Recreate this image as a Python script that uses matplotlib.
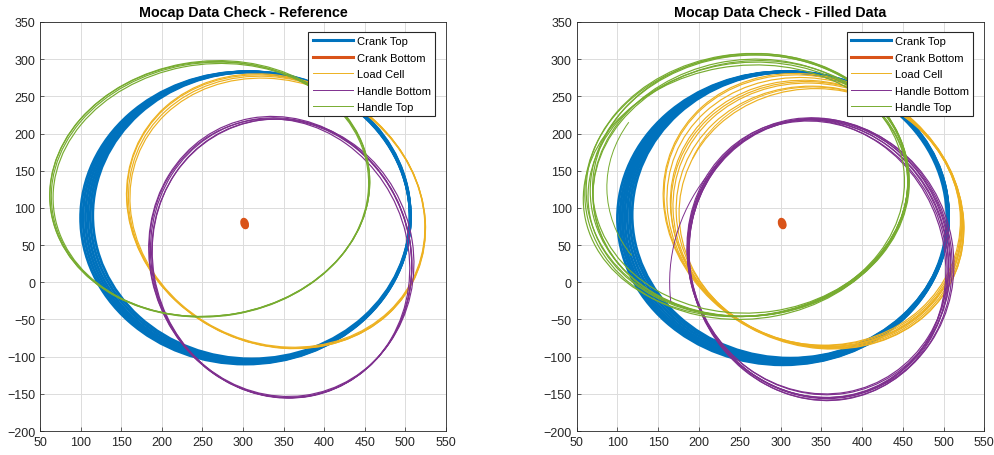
import matplotlib
matplotlib.use('Agg')
import matplotlib.pyplot as plt
from matplotlib.patches import Ellipse, Arc
from matplotlib.lines import Line2D

plt.rcParams['font.family'] = ['Liberation Sans', 'DejaVu Sans']

# MATLAB default colours, one per marker
C_BLUE = '#0072BD'
C_ORANGE = '#D95319'
C_YELLOW = '#EDB120'
C_PURPLE = '#7E2F8E'
C_GREEN = '#77AC30'

LABELS = ['Crank Top', 'Crank Bottom', 'Load Cell', 'Handle Bottom', 'Handle Top']
X_TICKS = [50, 100, 150, 200, 250, 300, 350, 400, 450, 500, 550]
Y_TICKS = [-200, -150, -100, -50, 0, 50, 100, 150, 200, 250, 300, 350]

# one loop per crank cycle: (centre x, centre y, semi-axis a, semi-axis b, tilt deg)
crank_top_ref = [(303.0, 86.5, 203.0, 196.5, 0), (304.5, 87.0, 201.5, 196.0, 0),
                 (306.0, 87.5, 200.0, 195.5, 0), (307.5, 88.0, 198.5, 195.0, 0),
                 (309.0, 89.0, 197.0, 194.0, 0), (310.5, 90.0, 195.5, 193.0, 0)]
crank_bottom_ref = [(302.0, 79.0, 3.0, 5.5, 15), (302.5, 78.5, 2.0, 4.5, 20)]
load_cell_ref = [(341.0, 95.0, 195.0, 172.0, -45), (341.7, 94.3, 193.0, 172.0, -45),
                 (342.4, 93.6, 191.0, 171.0, -44), (340.5, 95.5, 195.5, 172.5, -46)]
handle_bottom_ref = [(347.0, 33.0, 189.0, 160.0, 100), (346.0, 34.0, 190.0, 161.0, 101),
                     (348.0, 32.0, 188.0, 159.0, 99), (349.0, 33.0, 187.0, 161.0, 98),
                     (345.0, 32.0, 189.0, 159.0, 102)]
handle_top_ref = [(260.0, 125.0, 197.0, 170.0, 11), (259.0, 126.0, 198.0, 171.0, 11),
                  (261.0, 124.0, 196.0, 169.0, 12), (258.5, 125.0, 197.0, 171.0, 10)]

crank_top_fill = [(303.0, 86.0, 203.0, 197.0, 0), (304.5, 86.5, 201.5, 196.5, 0),
                  (306.0, 87.0, 200.0, 196.0, 0), (307.5, 88.0, 198.5, 195.0, 0),
                  (309.0, 89.0, 197.0, 194.0, 0), (310.5, 90.0, 195.5, 193.0, 0),
                  (312.0, 90.5, 194.0, 192.5, 0), (305.0, 87.0, 199.0, 196.0, 0)]
crank_bottom_fill = [(302.0, 79.0, 3.0, 5.5, 15), (302.5, 78.5, 2.0, 4.5, 20)]
load_cell_fill = [(341.0, 95.0, 195.0, 172.0, -45), (342.4, 93.6, 191.0, 172.0, -45),
                  (343.8, 92.2, 187.0, 171.0, -46), (345.2, 90.8, 183.0, 171.0, -45),
                  (346.7, 89.3, 179.0, 170.0, -44), (348.1, 87.9, 175.0, 170.0, -45),
                  (340.5, 95.5, 196.0, 173.0, -46), (344.5, 91.5, 185.0, 172.0, -44)]
handle_bottom_fill = [(347.0, 33.0, 189.0, 160.0, 100), (345.0, 31.0, 187.0, 158.0, 102),
                      (349.0, 31.0, 190.0, 161.0, 98), (346.0, 34.0, 185.0, 159.0, 101),
                      (350.0, 32.0, 188.0, 162.0, 99), (344.0, 31.0, 189.0, 157.0, 103),
                      (348.0, 34.0, 186.0, 160.0, 100), (347.0, 30.0, 190.0, 158.0, 100)]
handle_top_fill = [(260.0, 125.0, 197.0, 170.0, 11), (262.0, 130.0, 196.0, 175.0, 10),
                   (258.0, 128.0, 199.0, 177.0, 12), (263.0, 133.0, 194.0, 174.0, 9),
                   (257.0, 123.0, 200.0, 168.0, 11), (261.0, 127.0, 192.0, 172.0, 13),
                   (259.0, 131.0, 198.0, 176.0, 10), (264.0, 126.0, 195.0, 171.0, 12)]
# gap-filled partial cycles (centre x, centre y, a, b, tilt, start deg, end deg)
partial_fill = [(C_PURPLE, (410.0, 0.0, 246.0, 246.0, 0, 145, 186)),
                (C_GREEN, (265.0, 128.0, 178.0, 165.0, 0, 150, 212)),
                (C_YELLOW, (350.0, 92.0, 176.0, 165.0, -45, 120, 200))]


def draw_cycles(ax, cycles, color, lw):
    for cx, cy, a, b, ang in cycles:
        ax.add_patch(Ellipse((cx, cy), 2 * a, 2 * b, angle=ang, fill=False,
                             edgecolor=color, lw=lw))


def setup_axes(ax, title):
    ax.set_xlim(50, 550)
    ax.set_ylim(-200, 350)
    ax.set_xticks(X_TICKS)
    ax.set_yticks(Y_TICKS)
    ax.grid(True, color='#DCDCDC', lw=0.7)
    ax.set_axisbelow(True)
    ax.tick_params(direction='in', length=3, width=0.5, labelsize=9, colors='#262626')
    for s in ax.spines.values():
        s.set_color('#262626')
        s.set_linewidth(0.6)
    ax.set_title(title, fontsize=10.3, fontweight='bold', pad=4)
    handles = [Line2D([], [], color=C_BLUE, lw=2.2), Line2D([], [], color=C_ORANGE, lw=2.2),
               Line2D([], [], color=C_YELLOW, lw=0.7), Line2D([], [], color=C_PURPLE, lw=0.7),
               Line2D([], [], color=C_GREEN, lw=0.7)]
    leg = ax.legend(handles, LABELS, loc='upper right', bbox_to_anchor=(0.973, 0.976),
                    borderaxespad=0, fontsize=8, handlelength=3.6, handletextpad=0.35,
                    labelspacing=0.58, borderpad=0.4, fancybox=False, framealpha=1)
    leg.get_frame().set_edgecolor('#262626')
    leg.get_frame().set_linewidth(0.8)


fig = plt.figure(figsize=(9.95, 4.56), dpi=100)
ax1 = fig.add_axes([0.0402, 0.0526, 0.408, 0.897])
ax2 = fig.add_axes([0.5796, 0.0526, 0.4097, 0.897])

for ax, sets in [(ax1, [crank_top_ref, crank_bottom_ref, load_cell_ref, handle_bottom_ref, handle_top_ref]),
                 (ax2, [crank_top_fill, crank_bottom_fill, load_cell_fill, handle_bottom_fill, handle_top_fill])]:
    draw_cycles(ax, sets[0], C_BLUE, 2.0)
    draw_cycles(ax, sets[1], C_ORANGE, 2.5)
    draw_cycles(ax, sets[2], C_YELLOW, 0.85)
    draw_cycles(ax, sets[3], C_PURPLE, 0.85)
    draw_cycles(ax, sets[4], C_GREEN, 0.85)

for color, (cx, cy, a, b, ang, t1, t2) in partial_fill:
    ax2.add_patch(Arc((cx, cy), 2 * a, 2 * b, angle=ang, theta1=t1, theta2=t2,
                      edgecolor=color, lw=0.7))

setup_axes(ax1, 'Mocap Data Check - Reference')
setup_axes(ax2, 'Mocap Data Check - Filled Data')

fig.savefig('out.png', dpi=100)
